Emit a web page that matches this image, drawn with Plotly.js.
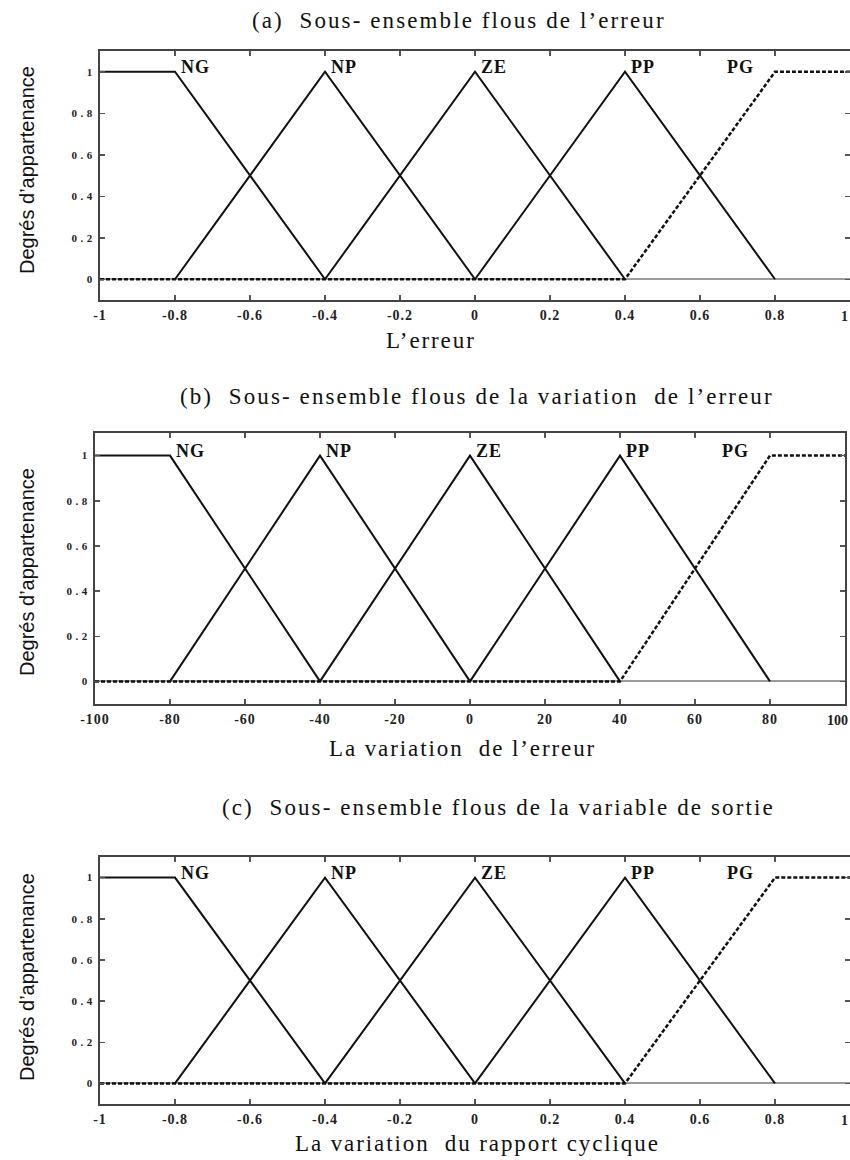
<!DOCTYPE html>
<html>
<head>
<meta charset="utf-8">
<script src="https://cdn.plot.ly/plotly-3.0.1.min.js"></script>
<style>html,body{margin:0;padding:0;background:#fff;}#chart{width:850px;height:1160px;}</style>
</head>
<body>
<div id="chart"></div>
<script>
// ---- Data: membership function breakpoints ----
// (a) error : universe [-1, 1]
const mfNames = ["NG", "NP", "ZE", "PP", "PG"];
const errNG_x = [-1, -0.8, -0.4];   const errNG_y = [1, 1, 0];
const errNP_x = [-0.8, -0.4, 0];    const errNP_y = [0, 1, 0];
const errZE_x = [-0.4, 0, 0.4];     const errZE_y = [0, 1, 0];
const errPP_x = [0, 0.4, 0.8];      const errPP_y = [0, 1, 0];
const errPG_x = [-1, 0.4, 0.8, 1];  const errPG_y = [0, 0, 1, 1];
const errTicks = [-1, -0.8, -0.6, -0.4, -0.2, 0, 0.2, 0.4, 0.6, 0.8, 1];

// (b) variation of error : universe [-100, 100]
const dErrNG_x = [-100, -80, -40];  const dErrNG_y = [1, 1, 0];
const dErrNP_x = [-80, -40, 0];     const dErrNP_y = [0, 1, 0];
const dErrZE_x = [-40, 0, 40];      const dErrZE_y = [0, 1, 0];
const dErrPP_x = [0, 40, 80];       const dErrPP_y = [0, 1, 0];
const dErrPG_x = [-100, 40, 80, 100]; const dErrPG_y = [0, 0, 1, 1];
const dErrTicks = [-100, -80, -60, -40, -20, 0, 20, 40, 60, 80, 100];

// (c) output (duty cycle variation) : universe [-1, 1]
const outNG_x = [-1, -0.8, -0.4];   const outNG_y = [1, 1, 0];
const outNP_x = [-0.8, -0.4, 0];    const outNP_y = [0, 1, 0];
const outZE_x = [-0.4, 0, 0.4];     const outZE_y = [0, 1, 0];
const outPP_x = [0, 0.4, 0.8];      const outPP_y = [0, 1, 0];
const outPG_x = [-1, 0.4, 0.8, 1];  const outPG_y = [0, 0, 1, 1];
const outTicks = [-1, -0.8, -0.6, -0.4, -0.2, 0, 0.2, 0.4, 0.6, 0.8, 1];

const yTicks = [0, 0.2, 0.4, 0.6, 0.8, 1];

const panelTitles = [
  "(a)  Sous- ensemble flous de l\u2019erreur",
  "(b)  Sous- ensemble flous de la variation  de l\u2019erreur",
  "(c)  Sous- ensemble flous de la variable de sortie"
];
const xTitles = ["L\u2019erreur", "La variation  de l\u2019erreur", "La variation  du rapport cyclique"];
const yTitle = "Degr\u00e9s d\u2019appartenance";

// ---- Build ----
const W = 850, H = 1160;
const solid = {color: "#111", width: 2};
const dashed = {color: "#111", width: 2.5, dash: "4px,2px"};
const spaced = (t, px) => '<span style="letter-spacing:' + px + 'px">' + t + '</span>';

const panels = [
  {ax: "", sets: [[errNG_x, errNG_y], [errNP_x, errNP_y], [errZE_x, errZE_y], [errPP_x, errPP_y], [errPG_x, errPG_y]], ticks: errTicks,
   xpx: [100, 850], ypx: [51, 300], titleY: 20, titleX: 459, xtY: 340, xtX: 431, ytY: 170, lastX: 850},
  {ax: "2", sets: [[dErrNG_x, dErrNG_y], [dErrNP_x, dErrNP_y], [dErrZE_x, dErrZE_y], [dErrPP_x, dErrPP_y], [dErrPG_x, dErrPG_y]], ticks: dErrTicks,
   xpx: [95, 845], ypx: [433, 704], titleY: 396, titleX: 477, xtY: 748, xtX: 462, ytY: 572, lastX: 850},
  {ax: "3", sets: [[outNG_x, outNG_y], [outNP_x, outNP_y], [outZE_x, outZE_y], [outPP_x, outPP_y], [outPG_x, outPG_y]], ticks: outTicks,
   xpx: [100, 850], ypx: [857, 1104], titleY: 807, titleX: 498, xtY: 1143, xtX: 477, ytY: 977, lastX: 850}
];

const data = [];
const layout = {
  width: W, height: H, showlegend: false,
  margin: {l: 0, r: 0, t: 0, b: 0},
  paper_bgcolor: "#fff", plot_bgcolor: "#fff",
  annotations: []
};
const serif = "Liberation Serif, Times New Roman, serif";
const tickFont = {family: serif, size: 14, color: "#222", weight: "bold"};
const labelFont = {family: serif, size: 18, color: "#111", weight: "bold"};
const textFont = {family: serif, size: 23, color: "#111"};

panels.forEach((p, pi) => {
  const xa = "x" + p.ax, ya = "y" + p.ax;
  p.sets.forEach((s, i) => {
    data.push({x: s[0], y: s[1], xaxis: xa, yaxis: ya, type: "scatter", mode: "lines",
      name: mfNames[i], line: i === 4 ? dashed : solid, hoverinfo: "x+y+name"});
  });
  const common = {showline: true, mirror: "ticks", linecolor: "#444", linewidth: 2,
    ticks: "inside", ticklen: 5, tickwidth: 1.5, tickcolor: "#555", showgrid: false,
    fixedrange: true, ticklabeloverflow: "allow"};
  const nT = p.ticks.length;
  layout["xaxis" + p.ax] = Object.assign({}, common, {
    domain: [p.xpx[0] / W, p.xpx[1] / W], anchor: ya,
    range: [p.ticks[0], p.ticks[nT - 1]],
    tickmode: "array", tickvals: p.ticks,
    // the last label sits on the page edge; it is drawn as an annotation below so it stays inside
    ticktext: p.ticks.map((v, k) => k === nT - 1 ? "" : spaced(String(v), 1)),
    tickfont: tickFont, zeroline: false, ticklabelstandoff: 1
  });
  layout["yaxis" + p.ax] = Object.assign({}, common, {
    domain: [1 - p.ypx[1] / H, 1 - p.ypx[0] / H], anchor: xa,
    range: [-0.1, 1.1], tickmode: "array", tickvals: yTicks, ticktext: yTicks.map(v => spaced(String(v), 3.5)),
    tickfont: Object.assign({}, tickFont, {size: 11}),
    zeroline: true, zerolinecolor: "#9a9a9a", zerolinewidth: 2
  });
  // last x tick label, kept inside the page
  layout.annotations.push({xref: "paper", yref: "paper", x: p.lastX / W, y: 1 - (p.ypx[1] + 7) / H,
    text: String(p.ticks[nT - 1]), showarrow: false, xanchor: "right", yanchor: "top", font: tickFont});
  // MF labels
  const peaks = [p.sets[0][0][1], p.sets[1][0][1], p.sets[2][0][1], p.sets[3][0][1], p.sets[4][0][2]];
  mfNames.forEach((n, i) => {
    layout.annotations.push({xref: xa, yref: ya, x: peaks[i], y: 1, text: spaced(n, 1), showarrow: false,
      xanchor: i === 4 ? "right" : "left", yanchor: "middle", xshift: i === 4 ? -19 : 4, yshift: 5, font: labelFont});
  });
  // panel title
  layout.annotations.push({xref: "paper", yref: "paper", x: p.titleX / W, y: 1 - p.titleY / H, text: spaced(panelTitles[pi], 2.1),
    showarrow: false, xanchor: "center", yanchor: "middle", font: textFont});
  // x-axis title
  layout.annotations.push({xref: "paper", yref: "paper", x: p.xtX / W, y: 1 - p.xtY / H, text: spaced(xTitles[pi], 1.9),
    showarrow: false, xanchor: "center", yanchor: "middle", font: textFont});
  // y-axis title
  layout.annotations.push({xref: "paper", yref: "paper", x: 27 / W, y: 1 - p.ytY / H, text: yTitle,
    showarrow: false, xanchor: "center", yanchor: "middle", textangle: -90,
    font: {family: "Liberation Sans, Arial, sans-serif", size: 20, color: "#111"}});
});

Plotly.newPlot("chart", data, layout, {displayModeBar: false, staticPlot: true});
</script>
</body>
</html>
